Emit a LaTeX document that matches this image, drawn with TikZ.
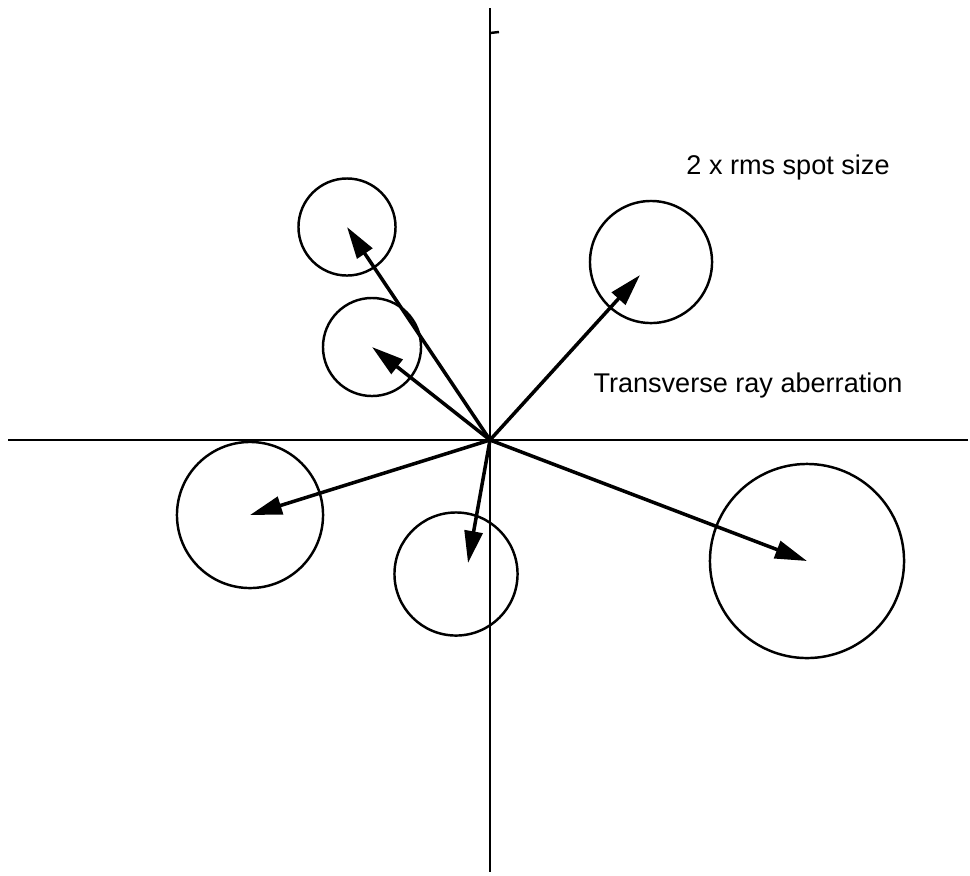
\documentclass[tikz,border=0pt]{standalone}
\usepackage{fontspec}
\setmainfont{Liberation Sans}
\usetikzlibrary{arrows.meta}

\begin{document}
\begin{tikzpicture}[
  x=0.01cm, y=-0.01cm,
  font=\fontsize{7.7}{9}\selectfont,
  axis/.style={line width=0.7pt},
  spot/.style={draw, circle, line width=0.7pt, inner sep=0pt, outer sep=0pt},
  ray/.style={-{Triangle[length=0.32cm, width=0.18cm]}, line width=1pt}
]
\useasboundingbox (0,0) rectangle (970,875);
% axes
\coordinate (o) at (490,440);
\coordinate (xl) at (8,440);
\coordinate (xr) at (968,440);
\coordinate (yt) at (490,8);
\coordinate (yb) at (490,872);
\draw[axis] (xl) -- (xr);
\draw[axis] (yt) -- (yb);
\draw[axis] (490,33) -- (499,32);
% spots
\node[spot, minimum size=0.97cm] (s1) at (347,227) {};
\node[spot, minimum size=0.98cm] (s2) at (372,347) {};
\node[spot, minimum size=1.22cm] (s3) at (651,262) {};
\node[spot, minimum size=1.46cm] (s4) at (250,515) {};
\node[spot, minimum size=1.23cm] (s5) at (456,574) {};
\node[spot, minimum size=1.94cm] (s6) at (807,561) {};
\coordinate (t3) at (640,275);
\coordinate (t5) at (468,563);
% rays
\draw[ray] (o) -- (s1.center);
\draw[ray] (o) -- (s2.center);
\draw[ray] (o) -- (t3);
\draw[ray] (o) -- (s4.center);
\draw[ray] (o) -- (t5);
\draw[ray] (o) -- (s6.center);
% labels
\node (lspot) at (788,167) {2 x rms spot size};
\node (lray) at (748,385) {Transverse ray aberration};
\end{tikzpicture}
\end{document}
